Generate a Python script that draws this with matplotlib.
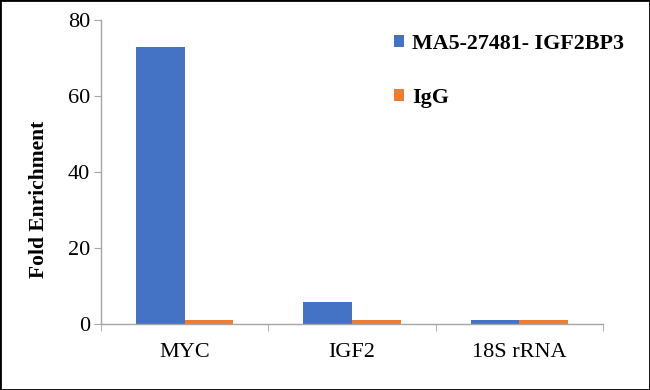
import numpy as np
import matplotlib
matplotlib.use("Agg")
import matplotlib.pyplot as plt
from matplotlib.patches import Rectangle

# Data
categories = ["MYC", "IGF2", "18S rRNA"]
series_names = ["MA5-27481- IGF2BP3", "IgG"]
antibody_vals = [72.8, 5.9, 1.0]
igg_vals = [1.0, 1.0, 1.0]
colors = ["#4472C4", "#ED7D31"]

plt.rcParams["font.family"] = ["Liberation Serif", "DejaVu Serif"]

fig = plt.figure(figsize=(6.5, 3.9), dpi=100)
ax = fig.add_axes([101 / 650, 66 / 390, 502 / 650, 304 / 390])

x = np.arange(len(categories))
w = 0.29
ax.bar(x - w / 2, antibody_vals, w, color=colors[0], label=series_names[0])
ax.bar(x + w / 2, igg_vals, w, color=colors[1], label=series_names[1])

ax.set_xlim(-0.5, len(categories) - 0.5)
ax.set_ylim(0, 80)
ax.set_yticks([0, 20, 40, 60, 80])
ax.set_xticks(x)
ax.set_xticklabels(categories)
ax.set_xticks(np.arange(-0.5, len(categories), 1), minor=True)

for s in ["top", "right"]:
    ax.spines[s].set_visible(False)
for s in ["left", "bottom"]:
    ax.spines[s].set_color("#a6a6a6")
    ax.spines[s].set_linewidth(1)

ax.tick_params(axis="y", length=5, color="#a6a6a6", labelsize=16, pad=3)
ax.tick_params(axis="x", which="major", length=0, labelsize=16, pad=14)
ax.tick_params(axis="x", which="minor", length=5, color="#a6a6a6")
ax.set_ylabel("Fold Enrichment", fontsize=15.5, fontweight="bold")
ax.yaxis.set_label_coords(-0.103, 0.41)

leg = ax.legend(loc="upper left", bbox_to_anchor=(0.545, 1.02), frameon=False,
                prop={"size": 15.8, "weight": "bold"}, handlelength=0.45,
                handleheight=0.45, handletextpad=0.35, labelspacing=1.55)

# outer border
fig.patches.append(Rectangle((0, 0), 1, 1, transform=fig.transFigure,
                             fill=False, edgecolor="black", linewidth=2))

fig.savefig("out.png", dpi=100)
